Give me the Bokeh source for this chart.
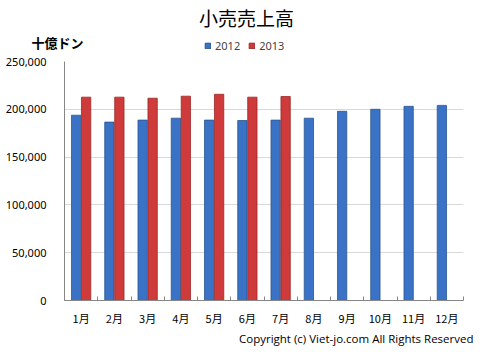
from bokeh.plotting import figure
from bokeh.layouts import column
from bokeh.models import (ColumnDataSource, FixedTicker, Label, Legend, LegendItem,
                          LinearAxis, NumeralTickFormatter, Range1d, Title)
from bokeh.embed import file_html
from bokeh.resources import INLINE

months = ["1月", "2月", "3月", "4月", "5月", "6月", "7月", "8月", "9月", "10月", "11月", "12月"]
sales_2012 = [193800, 186600, 188700, 190700, 188700, 188300, 188700, 190700, 197900, 200000, 203100, 204100]
sales_2013 = [212700, 212700, 211600, 213700, 215700, 212700, 213400]
series_names = ["2012", "2013"]
title_text = "小売売上高"
unit_text = "十億ドン"
copyright_text = "Copyright (c) Viet-jo.com All Rights Reserved"
y_ticks = [0, 50000, 100000, 150000, 200000, 250000]

BLUE = "#3a72c6"
BLUE_EDGE = "#2b5590"
RED = "#cf3a3a"
RED_EDGE = "#9a2828"
JP = "Noto Sans CJK JP"
LEFT, RIGHT = 64, 17
TOP_H, HEAD_H = 31, 22


def blank_fig(h):
    f = figure(width=480, height=h, output_backend="svg", toolbar_location=None,
               x_range=Range1d(0, 1), y_range=Range1d(0, 1), title=None,
               x_axis_location=None, y_axis_location=None,
               min_border_left=LEFT, min_border_right=RIGHT, min_border_top=0, min_border_bottom=0)
    f.grid.visible = False
    f.outline_line_color = None
    f.background_fill_color = "white"
    f.border_fill_color = "white"
    return f


n = len(months)
centers = [i + 0.5 for i in range(n)]
src12 = ColumnDataSource(dict(x=[c - 0.15 for c in centers], top=sales_2012))
src13 = ColumnDataSource(dict(x=[c + 0.15 for c in centers[:len(sales_2013)]], top=sales_2013))

# ---------- title strip ----------
top = blank_fig(TOP_H)
top.add_layout(Label(x=246 - LEFT, y=1, x_units="screen", y_units="screen", text=title_text,
                     text_font=JP, text_font_size="19px", text_align="center",
                     text_baseline="bottom", text_color="#000000"))

# ---------- unit + legend strip ----------
head = blank_fig(HEAD_H)
unit_axis = LinearAxis(ticker=FixedTicker(ticks=[]),
                       axis_label=unit_text, axis_label_orientation="horizontal",
                       axis_label_standoff=-19, axis_line_color=None,
                       major_tick_line_color=None, minor_tick_line_color=None,
                       major_tick_in=0, major_tick_out=0, minor_tick_in=0, minor_tick_out=0,
                       axis_label_text_font=JP, axis_label_text_font_size="13px",
                       axis_label_text_font_style="bold", axis_label_text_color="#000000")
head.add_layout(unit_axis, "left")

nan = float("nan")
h12 = head.vbar(x=[nan], top=[nan], width=0.1, fill_color=BLUE, line_color=BLUE_EDGE)
h13 = head.vbar(x=[nan], top=[nan], width=0.1, fill_color=RED, line_color=RED_EDGE)

legend = Legend(items=[LegendItem(label=series_names[0], renderers=[h12]),
                       LegendItem(label=series_names[1], renderers=[h13])],
                location=(204 - LEFT, 0), orientation="horizontal",
                glyph_width=7, glyph_height=7, label_standoff=4, spacing=8,
                label_height=12, padding=0, margin=0,
                border_line_color=None, background_fill_alpha=0,
                label_text_font="Noto Sans", label_text_font_size="11px",
                label_text_baseline="middle")
head.add_layout(legend)

# ---------- main chart ----------
p = figure(width=480, height=299, output_backend="svg", toolbar_location=None,
           x_range=Range1d(0, n), y_range=Range1d(0, 250000), title=None,
           min_border_left=LEFT, min_border_right=RIGHT, min_border_top=8, min_border_bottom=52)
p.outline_line_color = None
p.background_fill_color = "white"
p.border_fill_color = "white"

p.vbar(x="x", top="top", width=0.28, source=src12, fill_color=BLUE, line_color=BLUE_EDGE, line_width=0.8)
p.vbar(x="x", top="top", width=0.28, source=src13, fill_color=RED, line_color=RED_EDGE, line_width=0.8)

p.xaxis.ticker = FixedTicker(ticks=centers, minor_ticks=list(range(n + 1)))
p.xaxis.major_label_overrides = {c: m for c, m in zip(centers, months)}
p.xaxis.major_tick_line_color = None
p.xaxis.minor_tick_in = 4
p.xaxis.minor_tick_out = 0
p.xaxis.minor_tick_line_color = "#868686"
p.xaxis.axis_line_color = "#868686"
p.xaxis.major_label_text_font = JP
p.xaxis.major_label_text_font_size = "11px"
p.xaxis.major_label_text_color = "#000000"
p.xaxis.major_label_standoff = 3

p.yaxis.ticker = FixedTicker(ticks=y_ticks)
p.yaxis.formatter = NumeralTickFormatter(format="0,0")
p.yaxis.major_tick_line_color = None
p.yaxis.minor_tick_line_color = None
p.yaxis.axis_line_color = "#868686"
p.yaxis.major_label_text_font = "Noto Sans"
p.yaxis.major_label_text_font_size = "11px"
p.yaxis.major_label_text_color = "#000000"
p.yaxis.major_label_standoff = 12

p.xgrid.grid_line_color = None
p.ygrid.grid_line_color = "#d9d9d9"
p.ygrid.ticker = FixedTicker(ticks=y_ticks)

p.add_layout(Title(text=copyright_text, align="right", offset=-10, text_font="Open Sans",
                   text_font_size="11.5px", text_font_style="normal", standoff=0,
                   text_color="#000000"), "below")

layout = column(top, head, p, spacing=0)
open("out.html", "w").write(file_html(layout, INLINE))
